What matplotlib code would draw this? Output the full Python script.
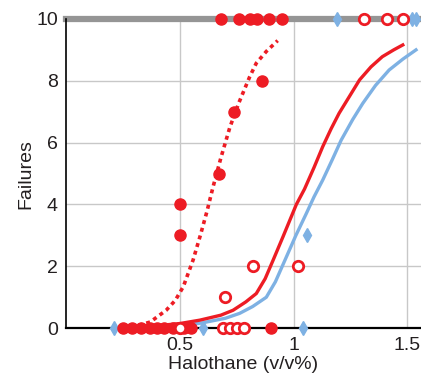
"""
Halothane dose vs failures, read off the reference figure
"""
import matplotlib
matplotlib.use("Agg")
import matplotlib.pyplot as plt

plt.rcParams["font.family"] = ["Liberation Sans", "DejaVu Sans"]

RED = "#ed1c24"
BLUE = "#7eb1e3"
GRID = "#c8c8c8"
TEXT = "#231f20"

# -------------------------------
# observed points
# -------------------------------
filled_x = [0.68, 0.76, 0.81, 0.84, 0.89, 0.95,
            0.50, 0.50, 0.67, 0.74, 0.86,
            0.25, 0.29, 0.33, 0.37, 0.40, 0.43, 0.47, 0.52, 0.55, 0.90]
filled_y = [10, 10, 10, 10, 10, 10,
            4, 3, 5, 7, 8,
            0, 0, 0, 0, 0, 0, 0, 0, 0, 0]

open_x = [1.31, 1.41, 1.48, 0.70, 0.82, 1.02, 0.50, 0.69, 0.72, 0.75, 0.78]
open_y = [10, 10, 10, 1, 2, 2, 0, 0, 0, 0, 0]

blue_x = [0.21, 0.60, 1.04, 1.06, 1.19, 1.52, 1.54]
blue_y = [0, 0, 0, 3, 10, 10, 10]

# -------------------------------
# fitted curves
# -------------------------------
dash_x = [0.25, 0.30, 0.37, 0.44, 0.48, 0.515, 0.558, 0.59, 0.62, 0.646, 0.68,
          0.72, 0.76, 0.807, 0.836, 0.88, 0.93]
dash_y = [0.0, 0.05, 0.2, 0.58, 0.9, 1.34, 2.2, 3.0, 3.8, 4.57, 5.5,
          6.5, 7.3, 8.13, 8.57, 8.95, 9.3]

red_x = [0.22, 0.40, 0.50, 0.588, 0.68, 0.734, 0.79, 0.836, 0.875, 0.91, 0.953,
         1.012, 1.048, 1.09, 1.128, 1.165, 1.20, 1.25, 1.29, 1.34, 1.39, 1.44, 1.48]
red_y = [0.0, 0.08, 0.15, 0.26, 0.42, 0.58, 0.85, 1.12, 1.6, 2.2, 2.95,
         4.0, 4.5, 5.2, 5.87, 6.45, 6.95, 7.55, 8.03, 8.45, 8.78, 9.0, 9.16]

blue_line_x = [0.21, 0.40, 0.50, 0.59, 0.70, 0.763, 0.82, 0.88, 0.92, 0.968,
               1.01, 1.056, 1.09, 1.128, 1.17, 1.209, 1.26, 1.304, 1.36, 1.42, 1.48, 1.538]
blue_line_y = [0.0, 0.04, 0.09, 0.16, 0.32, 0.48, 0.7, 1.0, 1.5, 2.3,
               3.0, 3.71, 4.25, 4.79, 5.45, 6.08, 6.75, 7.27, 7.85, 8.35, 8.7, 9.0]

x_ticks = [0.5, 1, 1.5]
x_tick_labels = ["0.5", "1", "1.5"]
y_ticks = [0, 2, 4, 6, 8, 10]

fig = plt.figure(figsize=(4.21, 3.87), dpi=100)
ax = fig.add_axes([0.157, 0.152, 0.843, 0.799])

ax.set_xlim(0, 1.56)
ax.set_ylim(0, 10)

for xv in x_ticks:
    ax.axvline(xv, color=GRID, lw=1, zorder=0)
for yv in y_ticks[1:-1]:
    ax.axhline(yv, color=GRID, lw=1, zorder=0)
ax.axhline(10, color="#959595", lw=4.5, zorder=1, clip_on=False)

ax.plot(dash_x, dash_y, color=RED, lw=2.6, ls=(0, (1.1, 1.1)), zorder=3)
ax.plot(red_x, red_y, color=RED, lw=2.4, zorder=3, solid_joinstyle="round")
ax.plot(blue_line_x, blue_line_y, color=BLUE, lw=2.4, zorder=2, solid_joinstyle="round")

ax.plot(filled_x, filled_y, "o", color=RED, ms=8, ls="none", zorder=5, clip_on=False)
ax.plot(open_x, open_y, "o", mfc="white", mec=RED, mew=2, ms=7.5, ls="none", zorder=5, clip_on=False)
ax.plot(blue_x, blue_y, "d", color=BLUE, ms=7, ls="none", zorder=4, clip_on=False)

ax.set_xticks(x_ticks)
ax.set_xticklabels(x_tick_labels)
ax.set_yticks(y_ticks)
ax.tick_params(length=0, labelsize=14, colors=TEXT, pad=6)

for side in ["top", "right"]:
    ax.spines[side].set_visible(False)
ax.spines["left"].set_linewidth(1.2)
ax.spines["bottom"].set_linewidth(1.6)
ax.spines["bottom"].set_zorder(1)

ax.set_xlabel("Halothane (v/v%)", fontsize=14, color=TEXT, labelpad=2)
ax.set_ylabel("Failures", fontsize=14, color=TEXT, labelpad=1)

fig.savefig("out.png", dpi=100)
